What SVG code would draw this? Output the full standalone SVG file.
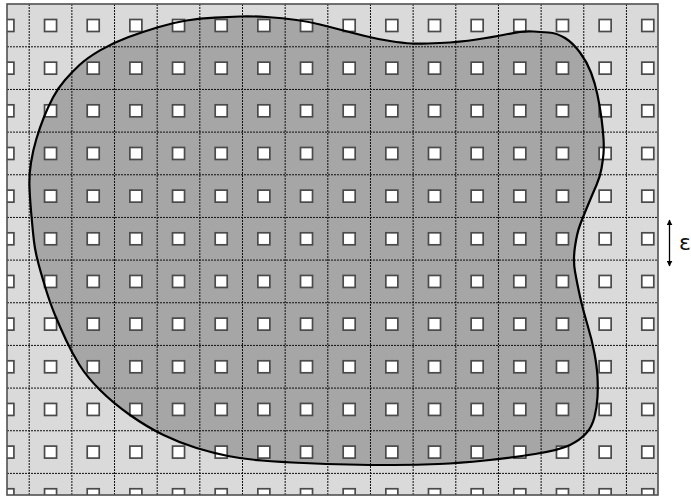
<svg xmlns="http://www.w3.org/2000/svg" xmlns:xlink="http://www.w3.org/1999/xlink" width="691" height="498" viewBox="0 0 691 498">
<style>
.bg{fill:#dadada;stroke:none}
.blob{fill:#a6a6a6;stroke:none}
.outline{fill:none;stroke:#000;stroke-width:2.2;stroke-linejoin:round}
.grid{fill:none;stroke:#111;stroke-width:1;stroke-dasharray:2 1}
.sq{fill:#fff;stroke:#4a4a4a;stroke-width:1.7}
.frame{fill:none;stroke:#505050;stroke-width:1.6}
.eps{font-family:"DejaVu Sans","Liberation Sans",sans-serif;font-size:22px;fill:#111}
</style>
<defs>
<clipPath id="clipFrame"><rect x="7" y="4" width="651" height="491"/></clipPath>
<marker id="ah" viewBox="0 0 10 10" refX="9" refY="5" markerWidth="6" markerHeight="6" orient="auto-start-reverse" markerUnits="userSpaceOnUse">
<path d="M0,0 L10,5 L0,10 z" fill="#000"/>
</marker>
<path id="region" d="M29.5,187.5 Q29,175 31,162.5 Q33,150 36.5,138.5 Q40,127 44,117 Q48,107 53,97.5 Q58,88 65,80 Q72,72 79.5,65 Q87,58 100,50.35 Q113,42.7 128,37.2 Q143,31.7 158,27.2 Q173,22.7 186.5,20.5 Q200,18.3 215,17.65 Q230,17 240,16.5 Q250,16 266.5,17 Q283,18 296.5,20 Q310,22 320,24.5 Q330,27 341.5,30 Q353,33 365,36 Q377,39 390,41 Q403,43 411.5,43.5 Q420,44 440,43 Q460,42 476.5,39.5 Q493,37 503,35 Q513,33 520,32 Q527,31 533.5,31.5 Q540,32 548.5,32.5 Q557,33 565,38 Q573,43 580,52.5 Q587,62 591,72.5 Q595,83 597.5,95 Q600,107 601.5,118.5 Q603,130 603.5,138.5 Q604,147 603.5,153.5 Q603,160 601.5,168.5 Q600,177 596.5,185 Q593,193 588,205 Q583,217 580,225 Q577,233 575,246.5 Q573,260 575,271.5 Q577,283 580,296.5 Q583,310 587.5,325 Q592,340 594.5,353.5 Q597,367 597.5,377 Q598,387 597.5,397 Q597,407 594.5,417 Q592,427 586,433.5 Q580,440 570,445 Q560,450 535,454 Q510,458 485,460.5 Q460,463 438.5,464 Q417,465 393.5,465 Q370,465 348.5,464.5 Q327,464 303.5,463 Q280,462 261.5,460.5 Q243,459 228,456 Q213,453 196.5,448 Q180,443 163.5,435 Q147,427 130,415 Q113,403 100,390 Q87,377 79.5,365 Q72,353 66,340 Q60,327 55,315 Q50,303 45,286.5 Q40,270 37.5,260 Q35,250 34,241.5 Q33,233 31.5,216.5 Q30,200 29.5,187.5 Z"/>
<rect id="sq" width="12" height="12" class="sq"/>
<g id="row">
<use xlink:href="#sq" x="2.4"/><use xlink:href="#sq" x="45.06"/><use xlink:href="#sq" x="87.72"/><use xlink:href="#sq" x="130.38"/>
<use xlink:href="#sq" x="173.04"/><use xlink:href="#sq" x="215.7"/><use xlink:href="#sq" x="258.36"/><use xlink:href="#sq" x="301.02"/>
<use xlink:href="#sq" x="343.68"/><use xlink:href="#sq" x="386.34"/><use xlink:href="#sq" x="429"/><use xlink:href="#sq" x="471.66"/>
<use xlink:href="#sq" x="514.32"/><use xlink:href="#sq" x="556.98"/><use xlink:href="#sq" x="599.64"/><use xlink:href="#sq" x="642.3"/>
</g>
</defs>
<rect id="background" class="bg" x="7" y="4" width="651" height="491"/>
<use id="region-fill" xlink:href="#region" class="blob"/>
<g id="grid-lines" class="grid">
<path d="M29.2,4V495M71.86,4V495M114.52,4V495M157.18,4V495M199.84,4V495M242.5,4V495M285.16,4V495M327.82,4V495M370.48,4V495M413.14,4V495M455.8,4V495M498.46,4V495M541.12,4V495M583.78,4V495M626.44,4V495"/>
<path d="M7,46.8H658M7,89.46H658M7,132.12H658M7,174.78H658M7,217.44H658M7,260.1H658M7,302.76H658M7,345.42H658M7,388.08H658M7,430.74H658M7,473.4H658"/>
</g>
<g id="cells" clip-path="url(#clipFrame)">
<g transform="translate(-0.5,-0.5)">
<use xlink:href="#row" y="20"/><use xlink:href="#row" y="62.66"/><use xlink:href="#row" y="105.32"/><use xlink:href="#row" y="147.98"/>
<use xlink:href="#row" y="190.64"/><use xlink:href="#row" y="233.3"/><use xlink:href="#row" y="275.96"/><use xlink:href="#row" y="318.62"/>
<use xlink:href="#row" y="361.28"/><use xlink:href="#row" y="403.94"/><use xlink:href="#row" y="446.6"/><use xlink:href="#row" y="489.26"/>
</g>
</g>
<use id="region-outline" xlink:href="#region" class="outline"/>
<rect id="frame" class="frame" x="7" y="4" width="651" height="491"/>
<g id="epsilon-marker">
<line x1="669.5" y1="220" x2="669.5" y2="266" stroke="#000" stroke-width="1.3" marker-start="url(#ah)" marker-end="url(#ah)"/>
<text class="eps" x="679" y="250">ε</text>
</g>
</svg>
